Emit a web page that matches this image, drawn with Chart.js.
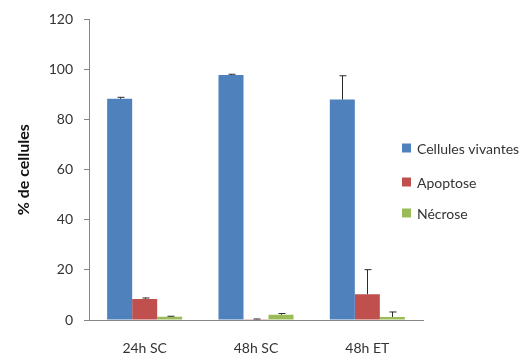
<!DOCTYPE html>
<html>
<head>
<meta charset="utf-8">
<script src="https://cdn.jsdelivr.net/npm/chart.js@4/dist/chart.umd.min.js"></script>
<style>
  html, body { margin: 0; padding: 0; background: #fff; }
  #wrap { width: 530px; height: 360px; position: relative; }
</style>
</head>
<body>
<div id="wrap"><canvas id="chart"></canvas></div>
<script>
// Chart data
var categories = ['24h SC', '48h SC', '48h ET'];
var seriesNames = ['Cellules vivantes', 'Apoptose', 'Nécrose'];
var vivantes = [88.3, 97.8, 88.0];
var apoptose = [8.4, 0.3, 10.3];
var necrose = [1.3, 2.1, 1.2];
// upper error bars
var vivantesErr = [0.6, 0.3, 9.5];
var apoptoseErr = [0.4, 0.1, 9.8];
var necroseErr = [0.2, 0.5, 2.0];
var yTicks = [0, 20, 40, 60, 80, 100, 120];

var colors = ['#4F81BD', '#C0504D', '#9BBB59'];
var axisColor = '#868686';
var textColor = '#333333';
var fontFamily = 'Lato, "Open Sans", sans-serif';

// Draws the upper error bars on top of each bar
var errorBarPlugin = {
  id: 'errorBars',
  afterDatasetsDraw: function (chart) {
    var ctx = chart.ctx;
    var yScale = chart.scales.y;
    ctx.save();
    ctx.strokeStyle = '#2b2b2b';
    ctx.lineWidth = 1;
    chart.data.datasets.forEach(function (dataset, di) {
      var meta = chart.getDatasetMeta(di);
      meta.data.forEach(function (bar, i) {
        var err = dataset.errors[i];
        if (!err) return;
        var x = Math.round(bar.x) + 0.5;
        var yTop = yScale.getPixelForValue(dataset.data[i] + err);
        ctx.beginPath();
        ctx.moveTo(x, bar.y);
        ctx.lineTo(x, yTop);
        ctx.moveTo(x - 3, yTop);
        ctx.lineTo(x + 4, yTop);
        ctx.stroke();
      });
    });
    ctx.restore();
  }
};

// Legend drawn on the right side like the original
var sideLegendPlugin = {
  id: 'sideLegend',
  afterDraw: function (chart) {
    var ctx = chart.ctx;
    var rowsY = [148, 182, 213];
    ctx.save();
    ctx.font = '14px ' + fontFamily;
    ctx.textBaseline = 'middle';
    chart.data.datasets.forEach(function (dataset, i) {
      ctx.fillStyle = dataset.backgroundColor;
      ctx.fillRect(402, rowsY[i] - 4.5, 9, 9);
      ctx.fillStyle = textColor;
      ctx.fillText(dataset.label, 417, rowsY[i] + 1);
    });
    ctx.restore();
  }
};

function makeDataset(i, values, errors) {
  return {
    label: seriesNames[i],
    data: values,
    errors: errors,
    backgroundColor: colors[i],
    borderWidth: 0,
    categoryPercentage: 0.674,
    barPercentage: 1
  };
}

var ctx = document.getElementById('chart').getContext('2d');
var chart = new Chart(ctx, {
  type: 'bar',
  data: {
    labels: categories,
    datasets: [
      makeDataset(0, vivantes, vivantesErr),
      makeDataset(1, apoptose, apoptoseErr),
      makeDataset(2, necrose, necroseErr)
    ]
  },
  options: {
    responsive: true,
    maintainAspectRatio: false,
    animation: false,
    layout: {
      padding: { top: 16, right: 107, bottom: 0, left: 0 }
    },
    plugins: {
      legend: { display: false },
      tooltip: { enabled: false }
    },
    scales: {
      x: {
        grid: { display: false },
        border: { display: true, color: axisColor, width: 1 },
        ticks: {
          padding: 12,
          color: textColor,
          font: { family: fontFamily, size: 14 }
        },
        afterFit: function (scale) {
          scale.height = 40;
        }
      },
      y: {
        min: 0,
        max: 120,
        afterBuildTicks: function (scale) {
          scale.ticks = yTicks.map(function (v) { return { value: v }; });
        },
        grid: {
          drawOnChartArea: false,
          drawTicks: true,
          tickLength: 5,
          color: axisColor
        },
        border: { display: true, color: axisColor, width: 1 },
        ticks: {
          padding: 11,
          color: textColor,
          font: { family: fontFamily, size: 14 }
        },
        title: {
          display: true,
          text: '% de cellules',
          color: '#111111',
          padding: { top: 14, bottom: 0 },
          font: { family: fontFamily, size: 16, weight: 'bold' }
        },
        afterFit: function (scale) {
          scale.width = 89;
        }
      }
    }
  },
  plugins: [errorBarPlugin, sideLegendPlugin]
});
</script>
</body>
</html>
